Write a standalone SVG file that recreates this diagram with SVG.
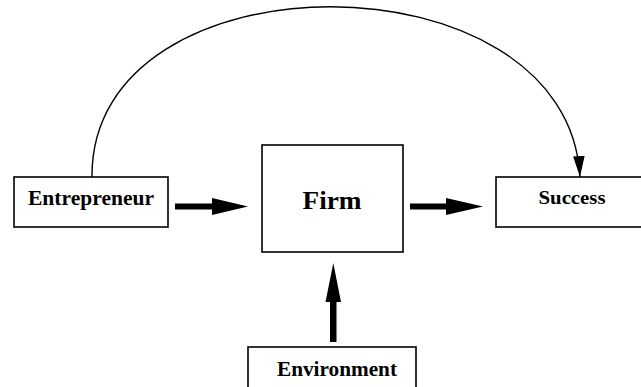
<svg xmlns="http://www.w3.org/2000/svg" width="641" height="387" viewBox="0 0 641 387">
  <style>
    .box { fill: #ffffff; stroke: #000000; stroke-width: 1.6; }
    .lbl { font-family: "Liberation Serif", "Times New Roman", serif; font-weight: bold; fill: #000000; text-anchor: middle; }
    .thick { fill: #000000; stroke: none; }
    .thin { fill: none; stroke: #000000; stroke-width: 1.4; }
  </style>
  <defs>
    <marker id="head" markerUnits="userSpaceOnUse" markerWidth="22" markerHeight="14" refX="20" refY="6" orient="auto" viewBox="0 0 21 12">
      <polygon points="0,0.5 20,6 0,11.5" fill="#000000"/>
    </marker>
  </defs>
  <rect width="641" height="387" fill="#ffffff"/>

  <g id="connectors">
    <path class="thin" d="M92,177 C90,-50 568,-50 580,177" marker-end="url(#head)"/>
    <polygon class="thick" points="175,203.5 212,203.5 212,198 248,206.5 212,215 212,209.5 175,209.5"/>
    <polygon class="thick" points="410,203.5 446,203.5 446,198 483,206.5 446,215 446,209.5 410,209.5"/>
    <polygon class="thick" points="330,342 330,302 325.5,302 333.3,263 341,302 336.5,302 336.5,342"/>
  </g>

  <g id="entrepreneur">
    <rect class="box" x="14" y="177" width="154" height="50"/>
    <text class="lbl" x="91" y="205" font-size="20" textLength="126" lengthAdjust="spacingAndGlyphs">Entrepreneur</text>
  </g>

  <g id="firm">
    <rect class="box" x="262" y="145" width="141" height="107"/>
    <text class="lbl" x="332" y="209" font-size="26" textLength="59" lengthAdjust="spacingAndGlyphs">Firm</text>
  </g>

  <g id="success">
    <rect class="box" x="496" y="177" width="170" height="50"/>
    <text class="lbl" x="572" y="204" font-size="18" textLength="67" lengthAdjust="spacingAndGlyphs">Success</text>
  </g>

  <g id="environment">
    <rect class="box" x="248" y="347" width="168" height="60"/>
    <text class="lbl" x="337" y="376" font-size="20" textLength="120" lengthAdjust="spacingAndGlyphs">Environment</text>
  </g>
</svg>
